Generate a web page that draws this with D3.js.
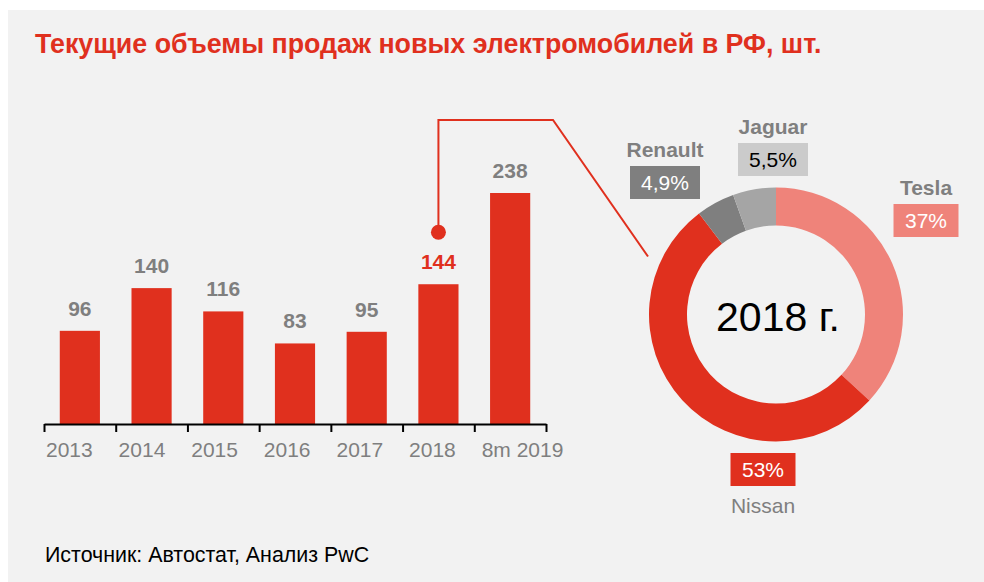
<!DOCTYPE html>
<html>
<head>
<meta charset="utf-8">
<script src="https://cdn.jsdelivr.net/npm/d3@7"></script>
<style>
  body { margin: 0; background: #fff; }
  svg { display: block; font-family: "Liberation Sans", Arial, sans-serif; }
</style>
</head>
<body>
<div id="wrapper"></div>
<script>
const years = ["2013", "2014", "2015", "2016", "2017", "2018", "8m 2019"];
const sales = [96, 140, 116, 83, 95, 144, 238];
const brands = ["Tesla", "Nissan", "Renault", "Jaguar"];
const shares = [37, 53, 4.9, 5.5];
const shareLabels = ["37%", "53%", "4,9%", "5,5%"];

const highlightYear = "2018";

const sliceColors = { Tesla: "#ef837a", Nissan: "#e0301e", Renault: "#7f7f7f", Jaguar: "#a5a5a5" };
const boxColors = { Tesla: "#ef837a", Nissan: "#e0301e", Renault: "#7f7f7f", Jaguar: "#cbcbcb" };
const boxText = { Tesla: "#fff", Nissan: "#fff", Renault: "#fff", Jaguar: "#000" };
// box centre offsets from pie centre, name placed above (or below for Nissan)
const labelLayout = {
    Tesla: { dx: 150, dy: -94, w: 65, nameBelow: false },
    Nissan: { dx: -13, dy: 155, w: 65, nameBelow: true },
    Renault: { dx: -111, dy: -132, w: 70, nameBelow: false },
    Jaguar: { dx: -3, dy: -155, w: 70, nameBelow: false }
};

const red = "#e0301e";
const gray = "#7f7f7f";

const width = 984, height = 582;

const svg = d3.select("#wrapper")
    .append("svg")
    .attr("width", width)
    .attr("height", height)

svg.append("rect")
    .attr("x", 8).attr("y", 10)
    .attr("width", width - 8).attr("height", height - 10)
    .attr("fill", "#f2f2f2")

svg.append("text")
    .attr("x", 35).attr("y", 53)
    .attr("fill", red)
    .attr("font-size", 26.8)
    .attr("font-weight", "bold")
    .text("Текущие объемы продаж новых электромобилей в РФ, шт.")

svg.append("text")
    .attr("x", 45).attr("y", 562)
    .attr("fill", "#000")
    .attr("font-size", 21.4)
    .text("Источник: Автостат, Анализ PwC")

// bars
const xScale = d3.scaleBand()
    .domain(years)
    .range([44, 546])
    .paddingInner(0.44)
    .paddingOuter(0.22)

const yScale = d3.scaleLinear()
    .domain([0, 238])
    .range([424, 193])

const bars = svg.append("g")

bars.selectAll("rect")
    .data(years)
    .join("rect")
    .attr("x", d => xScale(d))
    .attr("width", xScale.bandwidth())
    .attr("y", (d, i) => yScale(sales[i]))
    .attr("height", (d, i) => yScale(0) - yScale(sales[i]))
    .attr("fill", red)

bars.selectAll("text.val")
    .data(years)
    .join("text")
    .attr("class", "val")
    .attr("x", d => xScale(d) + xScale.bandwidth() / 2)
    .attr("y", (d, i) => yScale(sales[i]) - 15)
    .attr("text-anchor", "middle")
    .attr("font-size", 21)
    .attr("font-weight", "bold")
    .attr("fill", d => d === highlightYear ? red : gray)
    .text((d, i) => sales[i])

// axis: boundary ticks + labels
const edgeScale = d3.scaleLinear().domain([0, years.length]).range(xScale.range())
const tickAxis = svg.append("g")
    .attr("transform", `translate(0,${yScale(0)})`)
    .call(d3.axisBottom(edgeScale).tickValues(d3.range(years.length + 1)).tickFormat("").tickSize(8).tickSizeOuter(0))
tickAxis.select(".domain").attr("stroke", "#000").attr("stroke-width", 2)
tickAxis.selectAll(".tick line").attr("stroke", "#000").attr("stroke-width", 2)

// category labels sit near the left edge of each slot, as in the source
svg.append("g")
    .selectAll("text")
    .data(years)
    .join("text")
    .attr("x", (d, i) => edgeScale(i) + 2 + i * 0.9)
    .attr("y", yScale(0) + 33)
    .attr("font-size", 21)
    .attr("fill", gray)
    .text(d => d)

// donut
const cx = 776, cy = 314.5, rOuter = 127, rInner = 89;

// leader from 2018 bar to donut
const hx = xScale(highlightYear) + xScale.bandwidth() / 2
const dotY = yScale(sales[years.indexOf(highlightYear)]) - 52
svg.append("path")
    .attr("d", d3.line()([[hx, dotY], [hx, 120], [553, 120], [cx - 128, cy - 58]]))
    .attr("fill", "none")
    .attr("stroke", red)
    .attr("stroke-width", 2)
svg.append("circle")
    .attr("cx", hx).attr("cy", dotY).attr("r", 7.5)
    .attr("fill", red)

const pie = d3.pie().sort(null).value((d, i) => shares[i])
const arcs = pie(brands)
const arc = d3.arc().innerRadius(rInner).outerRadius(rOuter)

const donut = svg.append("g").attr("transform", `translate(${cx},${cy})`)

donut.selectAll("path")
    .data(arcs)
    .join("path")
    .attr("d", arc)
    .attr("fill", d => sliceColors[d.data])

donut.append("text")
    .attr("x", 2).attr("y", 16)
    .attr("text-anchor", "middle")
    .attr("font-size", 41)
    .attr("fill", "#000")
    .text("2018 г.")

const labels = donut.selectAll("g.lab")
    .data(brands)
    .join("g")
    .attr("class", "lab")
    .attr("transform", d => `translate(${labelLayout[d].dx},${labelLayout[d].dy})`)

labels.append("rect")
    .attr("x", d => -labelLayout[d].w / 2)
    .attr("y", -16.5)
    .attr("width", d => labelLayout[d].w)
    .attr("height", 33)
    .attr("fill", d => boxColors[d])

labels.append("text")
    .attr("y", 7.5)
    .attr("text-anchor", "middle")
    .attr("font-size", 21)
    .attr("fill", d => boxText[d])
    .text((d, i) => shareLabels[i])

labels.append("text")
    .attr("y", d => labelLayout[d].nameBelow ? 43 : -26)
    .attr("text-anchor", "middle")
    .attr("font-size", 21)
    .attr("font-weight", d => labelLayout[d].nameBelow ? "normal" : "bold")
    .attr("fill", gray)
    .text(d => d)
</script>
</body>
</html>
